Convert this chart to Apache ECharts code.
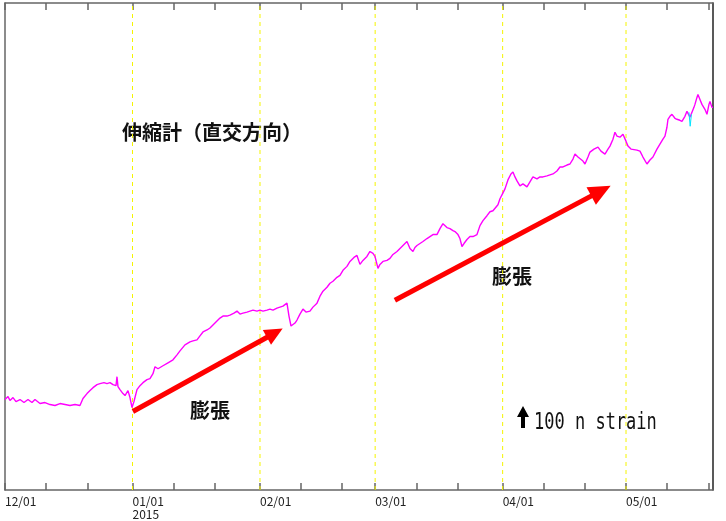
<!DOCTYPE html>
<html>
<head>
<meta charset="utf-8">
<script src="https://cdn.jsdelivr.net/npm/echarts@6/dist/echarts.min.js"></script>
<style>
  html, body { margin: 0; padding: 0; background: #fff; }
  #chart { width: 726px; height: 521px; }
</style>
</head>
<body>
<div id="chart"></div>
<script>
// Days since 2014-12-01
const days = [0,0.73,1.22,1.95,2.67,3.65,4.62,5.59,6.56,7.29,8.51,9.73,10.94,12.16,13.37,14.59,15.80,17.02,18.23,18.96,
19.94,20.67,21.40,22.37,23.10,24.07,24.80,25.53,26.26,26.99,27.23,27.47,27.96,28.69,29.18,29.90,30.39,30.88,31.36,32.09,
32.82,33.55,34.52,35.25,35.98,36.47,37.20,38.41,39.63,40.85,41.82,42.55,43.76,44.98,45.71,46.68,47.41,48.14,49.11,49.84,
50.81,51.54,52.27,53.00,53.97,54.70,55.68,56.41,57.14,57.86,58.84,59.57,60.30,61.27,62.00,62.73,63.70,64.43,65.16,66.13,
66.86,67.59,68.56,69.05,69.54,70.02,70.51,71.00,71.72,72.45,73.18,74.15,74.88,75.86,76.59,77.31,78.29,79.02,79.75,80.72,
81.45,82.18,83.15,83.88,84.85,85.58,86.31,87.04,88.01,88.74,89.47,89.96,90.69,91.17,91.90,92.88,93.61,94.33,95.31,96.04,
96.77,97.74,98.47,99.20,99.68,100.17,100.90,101.63,102.60,103.33,104.06,105.03,105.76,106.49,107.46,108.19,108.92,109.41,110.14,110.62,
111.11,111.60,112.33,113.06,113.78,114.76,115.49,116.22,117.19,117.92,118.65,119.13,119.86,120.35,121.08,121.57,122.29,123.02,123.51,124.00,
124.49,125.21,125.94,126.92,127.64,128.37,129.35,130.08,130.81,131.78,132.51,133.24,134.21,134.94,135.67,136.64,137.37,138.10,138.59,139.32,
139.80,140.53,141.02,141.75,142.23,143.21,144.18,144.91,145.88,146.61,147.10,147.83,148.31,148.80,149.53,150.26,150.99,151.48,152.21,152.69,
153.66,154.39,155.12,156.09,156.82,157.55,158.52,159.25,159.98,160.47,160.95,161.20,161.68,162.17,162.90,163.39,164.11,164.60,165.33,165.82,
166.55,167.03,167.52,167.76,168.25,168.49,168.98,169.46,170.19,170.68,171.17,171.41,171.90,172.15];
// Relative strain (arbitrary units, increasing = expansion)
const strain = [91,94,90,93,89,91,88,91,88,91,87,88,86,85,87,86,85,86,85,92,
97,100,103,106,107,108,107,108,106,105,114,104,101,97,95,100,93,83,89,101,
105,108,111,112,117,124,122,125,128,131,136,140,146,149,150,151,155,159,161,163,
167,170,173,175,175,176,178,180,177,178,179,180,181,180,181,180,181,182,181,183,
184,185,188,175,165,165,168,171,177,182,179,180,184,188,195,200,204,208,210,214,
216,221,225,230,234,236,227,231,235,240,238,235,223,227,230,231,233,237,240,243,
246,250,243,240,244,246,248,250,253,255,257,257,263,268,264,263,261,260,257,253,
245,248,252,255,255,257,266,271,276,280,281,280,287,293,299,303,312,318,320,315,
311,306,308,305,310,315,313,315,315,316,317,318,321,325,325,327,328,333,338,335,
336,331,328,335,340,343,345,341,338,343,346,353,360,356,355,358,351,346,343,343,
342,341,335,328,332,335,343,348,353,356,365,373,376,378,374,373,372,371,376,381,
375,376,385,388,395,398,393,388,383,378,388,391,385,385];
// Short cyan segment (second sensor trace glitch)
const cyanDays = [166.3, 166.6, 166.9];
const cyanStrain = [380, 366, 378];

// Axis ticks / labels
const tickDays = [0,10,20,31,41,51,62,72,82,90,100,110,121,131,141,151,161,171];
const monthDays = [0,31,62,90,121,151];
const monthLabels = ['12/01','01/01\n2015','02/01','03/01','04/01','05/01'];
const yMin = 0, yMax = 490;

// Annotation arrows (expansion trend)
const arrow1 = [[31.1, 79], [65.6, 158]];
const arrow2 = [[94.8, 191], [144.9, 301]];

const chart = echarts.init(document.getElementById('chart'));
const axisGray = '#666';

const monthLineSeries = monthDays.slice(1).map(d => ({
  type: 'line', z: 1, silent: true, symbol: 'none', showSymbol: false,
  data: [[d, yMin], [d, yMax]],
  lineStyle: { color: '#f5f500', type: [4, 4], width: 1 }
}));

chart.setOption({
  animation: false,
  backgroundColor: '#fff',
  grid: { left: 5, right: 13, top: 3, bottom: 28, containLabel: false },
  xAxis: [{
    type: 'value', min: 0, max: 172.15, position: 'bottom',
    axisLine: { show: true, onZero: false, lineStyle: { color: axisGray, width: 1.5 } },
    axisTick: { show: true, inside: true, length: 7, customValues: tickDays, lineStyle: { color: axisGray, width: 1.5 } },
    axisLabel: {
      show: true, customValues: monthDays, align: 'left', margin: 5,
      fontFamily: 'Noto Sans CJK JP', fontSize: 12, lineHeight: 13, color: '#222',
      formatter: v => { const i = monthDays.indexOf(Math.round(v)); return i >= 0 ? monthLabels[i] : ''; }
    },
    splitLine: { show: false }
  }, {
    type: 'value', min: 0, max: 172.15, position: 'top',
    axisLine: { show: true, onZero: false, lineStyle: { color: axisGray, width: 1.5 } },
    axisTick: { show: true, inside: true, length: 7, customValues: tickDays, lineStyle: { color: axisGray, width: 1.5 } },
    axisLabel: { show: false },
    splitLine: { show: false }
  }],
  yAxis: [{
    type: 'value', min: yMin, max: yMax, position: 'left',
    axisLine: { show: true, onZero: false, lineStyle: { color: axisGray, width: 1.5 } },
    axisTick: { show: false }, axisLabel: { show: false }, splitLine: { show: false }
  }, {
    type: 'value', min: yMin, max: yMax, position: 'right',
    axisLine: { show: true, onZero: false, lineStyle: { color: '#222', width: 1.5 } },
    axisTick: { show: false }, axisLabel: { show: false }, splitLine: { show: false }
  }],
  series: monthLineSeries.concat([{
    type: 'line', z: 3,
    data: days.map((d, i) => [d, strain[i]]),
    showSymbol: false, symbol: 'none',
    lineStyle: { color: '#ff00ff', width: 1.4 }
  }, {
    type: 'line', z: 3,
    data: cyanDays.map((d, i) => [d, cyanStrain[i]]),
    showSymbol: false, symbol: 'none',
    lineStyle: { color: '#00e5ff', width: 1 }
  }, {
    type: 'line', data: [], z: 4, silent: true,
    markLine: {
      silent: true, symbol: ['none', 'triangle'], symbolSize: [20, 22], label: { show: false },
      lineStyle: { color: '#ff0000', type: 'solid', width: 5 },
      data: [
        [{ coord: arrow1[0], symbolSize: [17, 18] }, { coord: arrow1[1], symbolSize: [17, 18] }],
        [{ coord: arrow2[0] }, { coord: arrow2[1] }]
      ]
    }
  }]),
  graphic: [
    { type: 'text', left: 122, top: 122, style: { text: '伸縮計（直交方向）', font: 'bold 20px "Noto Sans CJK JP"', fill: '#111' } },
    { type: 'text', left: 190, top: 400, style: { text: '膨張', font: 'bold 20px "Noto Sans CJK JP"', fill: '#111' } },
    { type: 'text', left: 492, top: 266, style: { text: '膨張', font: 'bold 20px "Noto Sans CJK JP"', fill: '#111' } },
    { type: 'text', x: 534, y: 412, scaleY: 1.3, style: { text: '100 n strain', font: '17px "DejaVu Sans Mono"', fill: '#111' } },
    { type: 'polygon', shape: { points: [[523,406],[529,417],[525,417],[525,428],[521,428],[521,417],[517,417]] }, style: { fill: '#000' } }
  ]
});
</script>
</body>
</html>
